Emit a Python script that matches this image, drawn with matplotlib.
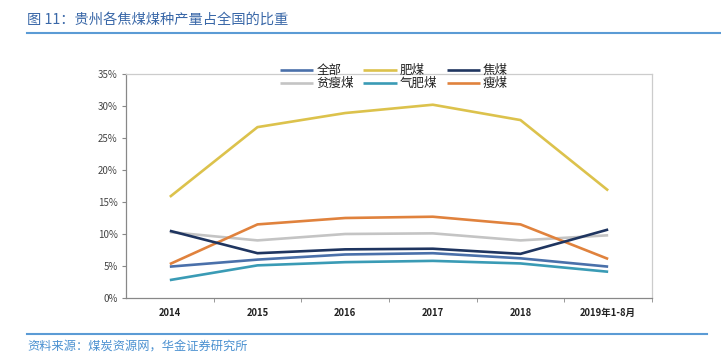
import matplotlib
matplotlib.use("Agg")
import matplotlib.pyplot as plt
from matplotlib.lines import Line2D

plt.rcParams['font.family'] = ['Noto Sans CJK SC', 'DejaVu Sans']

# data (share of national output, %)
years = ['2014', '2015', '2016', '2017', '2018', '2019年1-8月']
quanbu = [4.9, 6.0, 6.8, 7.0, 6.2, 4.9]
feimei = [15.8, 26.7, 28.9, 30.2, 27.8, 16.8]
jiaomei = [10.5, 7.0, 7.6, 7.7, 6.9, 10.7]
pinshoumei = [10.3, 9.0, 10.0, 10.1, 9.0, 9.8]
qifeimei = [2.8, 5.1, 5.6, 5.8, 5.4, 4.1]
shoumei = [5.3, 11.5, 12.5, 12.7, 11.5, 6.1]

names = ['全部', '肥煤', '焦煤', '贫瘦煤', '气肥煤', '瘦煤']
series = [quanbu, feimei, jiaomei, pinshoumei, qifeimei, shoumei]
colors = ['#4a70aa', '#dcc24c', '#1f3560', '#c4c4c4', '#3a9bb5', '#e0823d']

fig = plt.figure(figsize=(7.21, 3.63), dpi=100)
ax = fig.add_axes([126 / 721, 1 - 298 / 363, 526 / 721, 224 / 363])

x = list(range(len(years)))
handles = {}
# draw in back-to-front order similar to the source
for idx in [3, 1, 5, 0, 4, 2]:
    ln, = ax.plot(x, series[idx], color=colors[idx], lw=1.9, solid_capstyle='butt')
    handles[names[idx]] = ln

ax.set_xlim(-0.5, len(years) - 0.5)
ax.set_ylim(0, 35)
ax.set_yticks(range(0, 36, 5))
ax.set_yticklabels([f'{v}%' for v in range(0, 36, 5)], fontsize=7, color='#444444')
ax.set_xticks(x)
ax.set_xticklabels(years, fontsize=6.8, color='#222222', fontweight='bold')
ax.set_xticks([i + 0.5 for i in range(len(years))], minor=True)
ax.tick_params(axis='x', which='major', length=0, pad=7)
ax.tick_params(axis='x', which='minor', length=3, color='#888888', direction='out')
ax.tick_params(axis='y', length=3, color='#888888', pad=3)

for s in ['left', 'bottom']:
    ax.spines[s].set_color('#888888')
    ax.spines[s].set_linewidth(0.9)
for s in ['top', 'right']:
    ax.spines[s].set_color('#cccccc')
    ax.spines[s].set_linewidth(0.9)

# legend, row-wise: 全部 肥煤 焦煤 / 贫瘦煤 气肥煤 瘦煤
order = ['全部', '贫瘦煤', '肥煤', '气肥煤', '焦煤', '瘦煤']
leg = fig.legend([handles[n] for n in order], order, ncol=3, frameon=False,
                 loc='center', bbox_to_anchor=(394 / 721, 1 - 77 / 363),
                 fontsize=9, handlelength=2.65, handletextpad=0.25,
                 columnspacing=0.75, labelspacing=0.0, borderpad=0)
for t in leg.get_texts():
    t.set_color('#222222')

# title and footer
fig.text(27 / 721, 1 - 20 / 363, '图 11：贵州各焦煤煤种产量占全国的比重',
         fontsize=10.3, color='#3a68a8', va='center', ha='left')
fig.add_artist(Line2D([27 / 721, 1.0], [1 - 33 / 363] * 2, color='#5b9bd5', lw=1.5))
fig.add_artist(Line2D([27 / 721, 707 / 721], [1 - 334 / 363] * 2, color='#5b9bd5', lw=1.5))
fig.text(27 / 721, 1 - 347 / 363, '资料来源：煤炭资源网，华金证券研究所',
         fontsize=8.8, color='#4a90d0', va='center', ha='left', style='italic')

fig.savefig('out.png', dpi=100)
